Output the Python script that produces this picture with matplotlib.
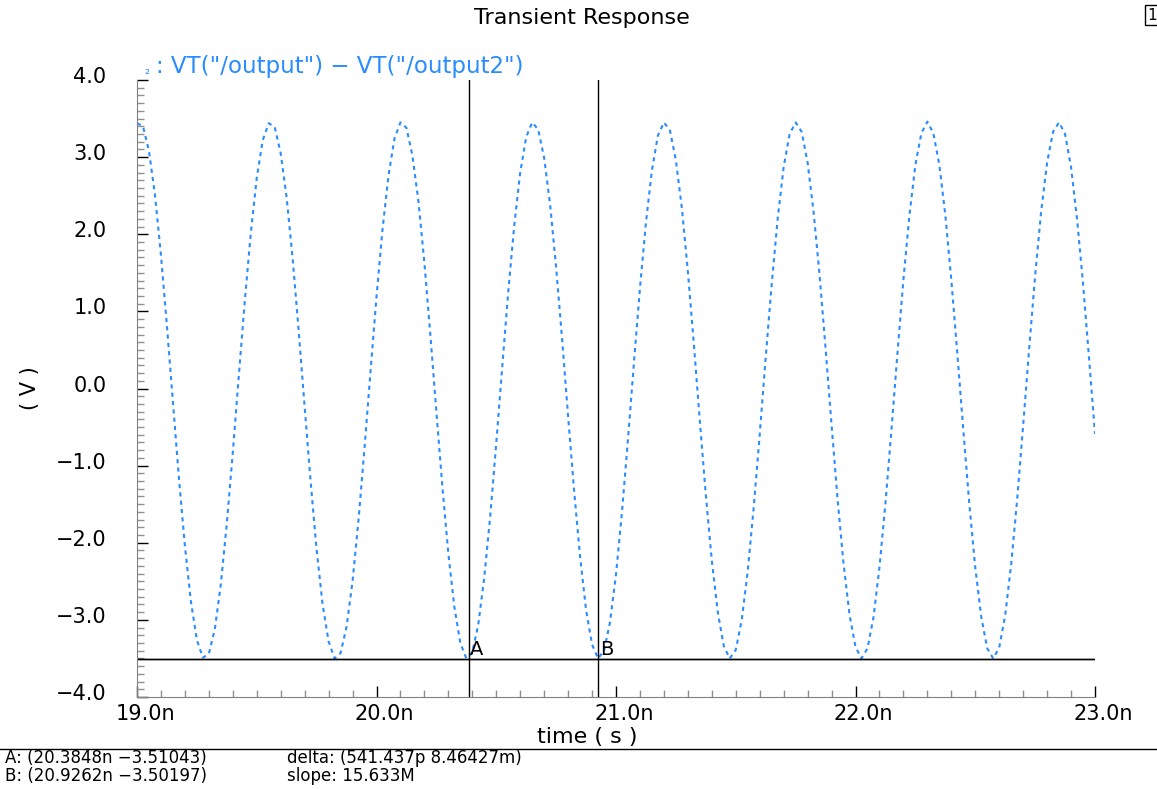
import numpy as np
import matplotlib
matplotlib.use("Agg")
import matplotlib.pyplot as plt
from matplotlib.lines import Line2D
from matplotlib.ticker import MultipleLocator, FuncFormatter
import matplotlib.transforms as mtrans

# -----------------------------
# DATA (read off the waveform viewer)
# -----------------------------
# simulator time grid, ns
time_ns = np.linspace(19.0, 23.0, 161)

# VT("/output") - VT("/output2"), volts, one value per 25 ps
volts = [
    3.44, 3.40, 3.08, 2.51, 1.73, 0.81, -0.18, -1.16, -2.04, -2.76, -3.26,
    -3.49, -3.44, -3.12, -2.54, -1.75, -0.83, 0.16, 1.13, 2.01, 2.73, 3.22,
    3.44, 3.39, 3.05, 2.47, 1.68, 0.75, -0.24, -1.21, -2.09, -2.80, -3.28,
    -3.50, -3.43, -3.09, -2.50, -1.70, -0.77, 0.22, 1.19, 2.06, 2.76, 3.24,
    3.45, 3.38, 3.02, 2.43, 1.63, 0.69, -0.30, -1.27, -2.14, -2.83, -3.30,
    -3.50, -3.42, -3.06, -2.45, -1.65, -0.71, 0.28, 1.25, 2.11, 2.80, 3.26,
    3.45, 3.36, 2.99, 2.38, 1.57, 0.64, -0.36, -1.32, -2.18, -2.87, -3.32,
    -3.50, -3.40, -3.03, -2.41, -1.60, -0.66, 0.34, 1.30, 2.15, 2.83, 3.28,
    3.45, 3.35, 2.96, 2.34, 1.52, 0.58, -0.42, -1.38, -2.23, -2.90, -3.34,
    -3.50, -3.39, -3.00, -2.37, -1.54, -0.60, 0.40, 1.35, 2.20, 2.87, 3.30,
    3.45, 3.33, 2.93, 2.29, 1.47, 0.52, -0.47, -1.43, -2.27, -2.93, -3.35,
    -3.50, -3.37, -2.97, -2.32, -1.49, -0.54, 0.45, 1.41, 2.24, 2.90, 3.31,
    3.46, 3.31, 2.90, 2.25, 1.41, 0.46, -0.53, -1.49, -2.32, -2.96, -3.37,
    -3.50, -3.36, -2.94, -2.28, -1.44, -0.48, 0.51, 1.46, 2.29, 2.93, 3.33,
    3.45, 3.30, 2.87, 2.20, 1.36, 0.40, -0.59,
]

# cursors
cursor_names = ["A", "B"]
cursor_t = [20.3848, 20.9262]
cursor_v = [-3.51043, -3.50197]

trace_label = ': VT("/output") \u2212 VT("/output2")'
readout_left = ["A: (20.3848n \u22123.51043)", "B: (20.9262n \u22123.50197)"]
readout_right = ["delta: (541.437p 8.46427m)", "slope: 15.633M"]

blue = "#2a8cff"

# -----------------------------
# FIGURE
# -----------------------------
W, H = 1157, 789
fig = plt.figure(figsize=(W / 100, H / 100), dpi=100)
ax = fig.add_axes([137 / W, 1 - 697 / H, (1095 - 137) / W, (697 - 80) / H])

ax.plot(time_ns, volts, color=blue, lw=1.5, linestyle=(0, (2.0, 2.0)))

# cursor lines
for name, t, v in zip(cursor_names, cursor_t, cursor_v):
    ax.axvline(t, color="black", lw=1)
    ax.axhline(v, color="black", lw=1)
    ax.annotate(name, (t, v), xytext=(1, 0), textcoords="offset points",
                ha="left", va="bottom", fontsize=14)

ax.set_xlim(19.0, 23.0)
ax.set_ylim(-4.0, 4.0)

for s in ["top", "right"]:
    ax.spines[s].set_visible(False)
ax.spines["left"].set_color("#808080")
ax.spines["bottom"].set_color("#808080")

ax.xaxis.set_major_locator(MultipleLocator(1.0))
ax.xaxis.set_minor_locator(MultipleLocator(0.1))
ax.yaxis.set_major_locator(MultipleLocator(1.0))
ax.yaxis.set_minor_locator(MultipleLocator(0.1))
ax.xaxis.set_major_formatter(FuncFormatter(lambda x, p: f"{x:.1f}n"))
ax.yaxis.set_major_formatter(FuncFormatter(lambda y, p: f"{y:.1f}".replace("-", "\u2212")))

ax.tick_params(which="major", direction="in", length=8, width=1, color="black",
               labelsize=15)
ax.tick_params(which="minor", direction="in", length=5, width=1, color="#909090")
ax.tick_params(axis="y", which="major", pad=22)
ax.tick_params(axis="x", which="major", pad=5)

# shift labels like the viewer does (y labels sit above their ticks)
up = mtrans.ScaledTranslation(0, 5 / 100, fig.dpi_scale_trans)
right = mtrans.ScaledTranslation(8 / 100, 0, fig.dpi_scale_trans)
for lab in ax.get_yticklabels():
    lab.set_transform(lab.get_transform() + up)
for lab in ax.get_xticklabels():
    lab.set_transform(lab.get_transform() + right)

# -----------------------------
# TEXT
# -----------------------------
fig.text(582 / W, 1 - 18 / H, "Transient Response", ha="center", va="center", fontsize=16)
fig.text(147 / W, 1 - 70 / H, "\u2082", ha="center", va="center", fontsize=9, color=blue)
fig.text(156 / W, 1 - 66 / H, trace_label, ha="left", va="center", fontsize=16.5, color=blue)
fig.text(30 / W, 1 - 388 / H, "( V )", rotation=90, ha="center", va="center", fontsize=15)
fig.text(587 / W, 1 - 737 / H, "time ( s )", ha="center", va="center", fontsize=16)
fig.text(1152 / W, 1 - 15 / H, "1", ha="center", va="center", fontsize=11,
         bbox=dict(boxstyle="square,pad=0.15", fc="white", ec="black", lw=1))

fig.add_artist(Line2D([0, 1], [1 - 749 / H] * 2, color="black", lw=1))
for i, txt in enumerate(readout_left):
    fig.text(5 / W, 1 - (758 + 18 * i) / H, txt, ha="left", va="center", fontsize=12)
for i, txt in enumerate(readout_right):
    fig.text(287 / W, 1 - (758 + 18 * i) / H, txt, ha="left", va="center", fontsize=12)

fig.savefig("out.png", dpi=100, facecolor="white")
